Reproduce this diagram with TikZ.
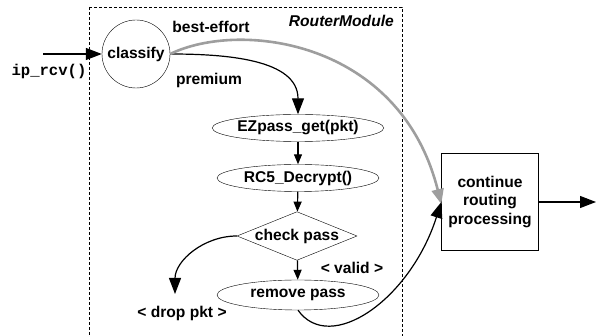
\documentclass[tikz,border=0pt]{standalone}
\usepackage{fontspec}
\setmainfont{Liberation Sans}
\setmonofont{Liberation Mono}
\usetikzlibrary{positioning,arrows.meta,shapes.geometric}

\begin{document}
\begin{tikzpicture}[x=1pt,y=-1pt,
    font=\fontsize{15.6}{18.5}\selectfont\bfseries,
    oval/.style={ellipse,draw,minimum width=162pt,minimum height=27pt,inner sep=0pt},
    decision/.style={diamond,draw,aspect=2.47,minimum width=111pt,minimum height=45pt,inner sep=0pt},
    box/.style={rectangle,draw,minimum width=97pt,minimum height=97pt,align=center,inner sep=0pt},
    lbl/.style={inner sep=0pt},
    big/.style={line width=1.2pt,-{Triangle[length=16pt,width=12pt]}},
    small/.style={line width=1.2pt,-{Triangle[length=10pt,width=8pt]}}]
    \useasboundingbox (0,0) rectangle (598,336);

    % Module frame
    \draw[line width=0.6pt,dash pattern=on 3pt off 2pt] (89,7) rectangle (402,338);
    \node[lbl,anchor=east] (mod) at (394,21) {\itshape RouterModule};

    % Nodes
    \node[circle,draw,minimum size=68pt,inner sep=0pt] (classify) at (136,54) {classify};
    \node[oval] (ezpass) at (298,128) {EZpass\_get(pkt)};
    \node[oval] (rc5) at (298,178) {RC5\_Decrypt()};
    \node[decision] (check) at (297,236) {check pass};
    \node[oval,minimum height=30pt] (remove) at (298,295) {remove pass};
    \node[box] (cont) at (490,202) {continue\\routing\\processing};

    % Labels
    \node[lbl] (ip) at (49,71) {\ttfamily\bfseries ip\_rcv()};
    \node[lbl] (best) at (211,27) {best-effort};
    \node[lbl] (prem) at (209,80) {premium};
    \node[lbl] (valid) at (352,268) {< valid >};
    \node[lbl] (drop) at (182,313) {< drop pkt >};

    % Free ends
    \coordinate (in) at (43,54);
    \coordinate (droptip) at (175,294);
    \coordinate (out) at (596,202);

    % Connections
    \draw[big] (in) -- (classify);
    \draw[big] (classify.east) to[out=0,in=90] (ezpass.north);
    \draw[small] (ezpass) -- (rc5);
    \draw[small] (rc5) -- (check);
    \draw[small] (check) -- (remove);
    \draw[big] (check.west) to[out=180,in=90] (droptip);
    \draw[big] (remove.south) .. controls (330,355) and (410,300) .. (cont.west);
    \draw[line width=2.6pt,black!38,-{Triangle[length=15pt,width=12pt]}]
        (classify.east) .. controls (240,20) and (400,40) .. ([yshift=-2pt]cont.west);
    \draw[big] (cont) -- (out);
\end{tikzpicture}
\end{document}
